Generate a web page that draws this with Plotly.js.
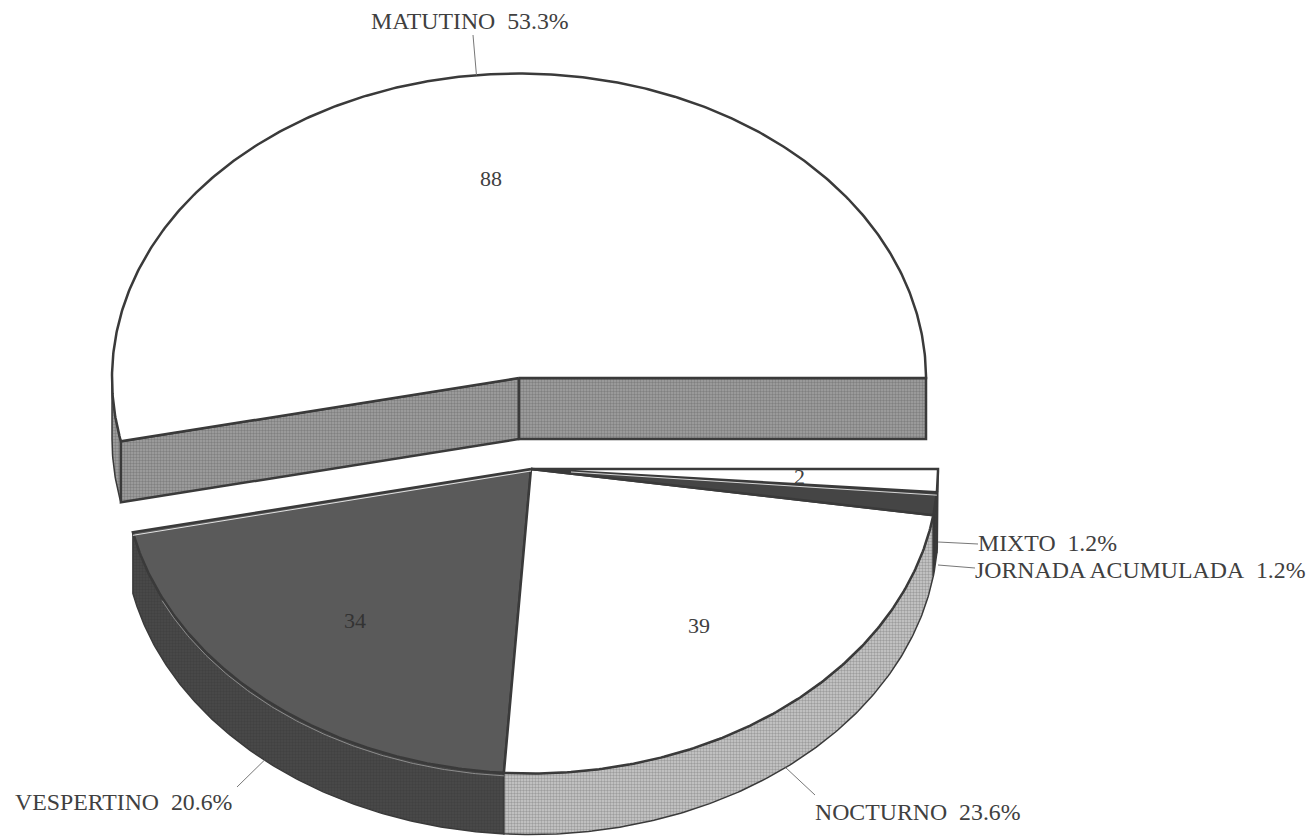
<!DOCTYPE html>
<html>
<head>
<meta charset="utf-8">
<script src="https://cdn.plot.ly/plotly-3.0.0.min.js"></script>
<style>html,body{margin:0;padding:0;background:#fff}#chart{width:1314px;height:836px}</style>
</head>
<body>
<div id="chart"></div>
<script>
// Turnos: number of cases per shift
const categories = ["MATUTINO", "VESPERTINO", "NOCTURNO", "JORNADA ACUMULADA", "MIXTO"];
const values = [88, 34, 39, 2, 2];
// The count on the dark sliver is not printed
const showCount = [true, true, true, false, true];

// Appearance of each slice
const topColors  = ["#ffffff", "#5a5a5a", "#ffffff", "#454545", "#ffffff"];
const wallColors = ["#a2a2a2", "#4a4a4a", "#cccccc", "#3c3c3c", "#3c3c3c"];
const wallDots   = ["#5e5e5e", "#383838", "#6e6e6e", "#333333", "#333333"];

// Disc geometry, in pixel units of the hidden axes
const RX = 407, RY = 304.5, DEPTH = 61;
const centers = [[519, 378], [531, 469], [531, 469], [531, 469], [531, 469]];
const OUTLINE = "#3a3a3a";
const TEXT = "#404040";
const FONT = "Liberation Serif";

// Where each outer caption sits and where its leader ends
const captionAt = [[369, 21], [13, 802], [813, 812], [973, 570], [976, 543]];
const leaderEnd = [[473, 35], [237, 787], [815, 795], [975, 568], [978, 544]];
const leaderStart = [null, null, null, [938, 565], [938, 542]];

const total = values.reduce((a, b) => a + b, 0);
let running = 0;
const slices = values.map((v, i) => {
  const a0 = running / total * 360;
  running += v;
  return {i, a0, a1: running / total * 360, mid: (a0 + (running / total * 360)) / 2};
});

const rad = d => d * Math.PI / 180;
const pt = (c, a, r = 1, dy = 0) => [c[0] + RX * r * Math.cos(rad(a)), c[1] - RY * r * Math.sin(rad(a)) + dy];

// Points along the rim from angle a to angle b
function arc(c, a, b, dy = 0) {
  const n = Math.max(2, Math.ceil(Math.abs(b - a) * 2));
  const out = [];
  for (let k = 0; k <= n; k++) out.push(pt(c, a + (b - a) * k / n, 1, dy));
  return out;
}

const traces = [];
function poly(points, fill, dots, lineWidth, lineColor) {
  const t = {
    type: "scatter", mode: "lines", hoverinfo: "skip",
    x: points.map(p => p[0]), y: points.map(p => p[1]),
    fill: "toself", fillcolor: fill,
    line: {color: lineColor || OUTLINE, width: lineWidth === undefined ? 2.5 : lineWidth}
  };
  if (dots) t.fillpattern = {shape: ".", bgcolor: fill, fgcolor: dots, size: 3, solidity: 0.5, fillmode: "overlay"};
  traces.push(t);
}
function stroke(points, color, width) {
  traces.push({
    type: "scatter", mode: "lines", hoverinfo: "skip",
    x: points.map(p => p[0]), y: points.map(p => p[1]),
    line: {color, width}
  });
}

// Outer walls are visible only on the lower half of the disc (180 to 360 degrees)
slices.forEach(s => {
  const c = centers[s.i];
  const from = Math.max(s.a0, 180), to = s.a1;
  if (to <= from) return;
  const front = arc(c, from, to);
  const back = arc(c, to, from, DEPTH);
  poly(front.concat(back, [front[0]]), wallColors[s.i], wallDots[s.i], 1.5);
});

// Cut faces of the detached slice, seen from the front
(function () {
  const s = slices[0], c = centers[0];
  const cd = [c[0], c[1] + DEPTH];
  [s.a1, s.a0].forEach(a => {
    const e = pt(c, a), ed = pt(c, a, 1, DEPTH);
    poly([c, e, ed, cd, c], wallColors[0], wallDots[0]);
  });
})();

// Top faces
slices.forEach(s => {
  const c = centers[s.i];
  const rim = arc(c, s.a0, s.a1);
  poly([c].concat(rim, [c]), topColors[s.i], null);
});

// Thin highlights that run just inside the dark faces
(function () {
  const v = slices[1], c = centers[1];
  stroke([[c[0], c[1] + 2], pt(c, v.a0, 1, 3)], "#e2e2e2", 1);
  stroke(arc(c, 205, v.a1, 3), "#8c8c8c", 1);
  const j = slices[3];
  stroke([[c[0] + 40, c[1] + 3], pt(c, j.a1, 1, 3)], "#d6d6d6", 1);
})();

// Leader lines
slices.forEach(s => {
  const c = centers[s.i];
  const lift = s.mid > 180 ? DEPTH : 0;
  const start = leaderStart[s.i] || pt(c, s.mid, 1, lift);
  stroke([start, leaderEnd[s.i]], "#777777", 1);
});

// Value labels inside the slices, outer captions around the disc
const annotations = [];
slices.forEach(s => {
  if (showCount[s.i]) {
    const p = pt(centers[s.i], s.mid, 0.66);
    annotations.push({
      x: p[0], y: p[1], xref: "x", yref: "y", showarrow: false,
      text: String(values[s.i]), font: {family: FONT, size: 22, color: s.i === 1 ? "#333333" : TEXT}
    });
  }
  const pct = (values[s.i] / total * 100).toFixed(1);
  annotations.push({
    x: captionAt[s.i][0], y: captionAt[s.i][1], xref: "x", yref: "y", showarrow: false,
    xanchor: "left", yanchor: "middle",
    text: categories[s.i] + "\u00A0\u00A0" + pct + "%",
    font: {family: FONT, size: 23.8, color: TEXT}
  });
});

const layout = {
  width: 1314, height: 836,
  margin: {l: 0, r: 0, t: 0, b: 0},
  paper_bgcolor: "#ffffff", plot_bgcolor: "#ffffff",
  showlegend: false,
  xaxis: {range: [0, 1314], visible: false, fixedrange: true},
  yaxis: {range: [836, 0], visible: false, fixedrange: true},
  annotations
};
Plotly.newPlot("chart", traces, layout, {displayModeBar: false, staticPlot: true});
</script>
</body>
</html>
